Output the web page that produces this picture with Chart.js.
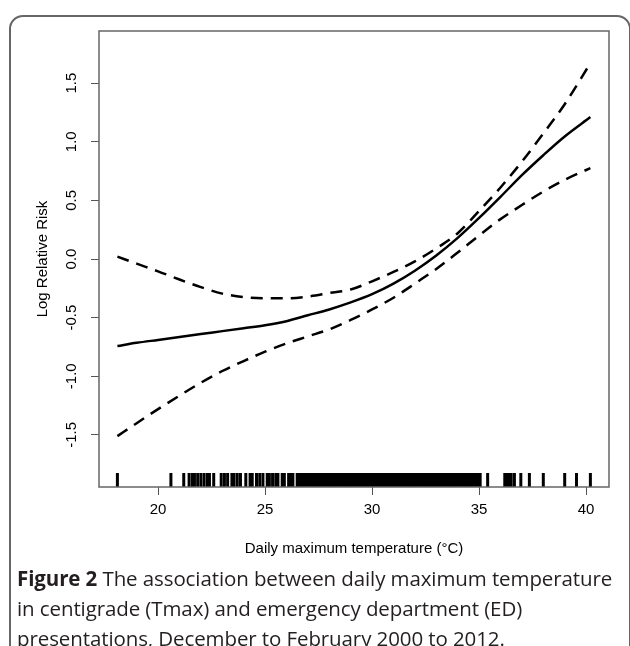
<!DOCTYPE html>
<html>
<head>
<meta charset="utf-8">
<script src="https://cdn.jsdelivr.net/npm/chart.js@4.4.0/dist/chart.umd.min.js"></script>
<style>
  html, body { margin: 0; padding: 0; background: #fff; }
  #page { position: relative; width: 630px; height: 646px; overflow: hidden; }
  #frame {
    position: absolute; left: 9px; top: 15px; width: 622px; height: 700px;
    border: 2px solid #666; border-radius: 14px; box-sizing: border-box;
  }
  #chart-div { position: absolute; left: 0; top: 0; width: 630px; height: 646px; }
  #caption {
    position: absolute; left: 17px; top: 563px; width: 612px;
    font-family: "Open Sans", sans-serif; font-size: 20.5px; line-height: 30px;
    color: #231f20; white-space: nowrap; letter-spacing: -0.1px;
  }
  #caption b { font-weight: 700; }
</style>
</head>
<body>
<div id="page">
  <div id="frame"></div>
  <div id="chart-div"><canvas id="canvas-id"></canvas></div>
  <div id="caption">
    <b>Figure 2</b> The association between daily maximum temperature<br>
    in centigrade (Tmax) and emergency department (ED)<br>
    presentations, December to February 2000 to 2012.
  </div>
</div>
<script>
// --- Chart data ---
var temps = [18.1, 19, 20, 21, 22, 23, 24, 25, 26, 27, 28, 29, 30, 31, 32, 33, 34, 35, 36, 37, 38, 39, 40.2]; //Tmax grid (°C)
var logRR = [-0.742, -0.715, -0.69, -0.665, -0.64, -0.615, -0.59, -0.565, -0.53, -0.48, -0.43, -0.37, -0.30, -0.21, -0.10, 0.03, 0.18, 0.35, 0.53, 0.715, 0.885, 1.045, 1.21]; //Fitted log RR
var upperCI = [0.02, -0.04, -0.105, -0.175, -0.24, -0.295, -0.325, -0.335, -0.335, -0.32, -0.29, -0.26, -0.19, -0.11, -0.02, 0.09, 0.22, 0.41, 0.61, 0.83, 1.07, 1.32, 1.67]; //Upper 95% band
var lowerCI = [-1.51, -1.40, -1.28, -1.165, -1.055, -0.955, -0.87, -0.79, -0.72, -0.66, -0.60, -0.52, -0.43, -0.33, -0.21, -0.085, 0.055, 0.20, 0.34, 0.46, 0.575, 0.675, 0.775]; //Lower 95% band

// Rug of observed daily Tmax values
var rugTemps = [
  18.1, 20.6, 21.2, 21.45, 21.6, 21.7, 21.85, 22.0, 22.15, 22.3, 22.4, 22.6,
  22.95, 23.1, 23.25, 23.45, 23.55, 23.7, 23.85, 24.1, 24.3, 24.4, 24.6, 24.75, 24.9,
  25.1, 25.2, 25.35, 25.5, 25.6, 25.8, 25.9, 26.1, 26.2, 26.3, 26.5,
  26.6, 26.7, 26.8, 26.9, 27.0, 27.1, 27.2, 27.3, 27.4, 27.5, 27.6, 27.7, 27.8, 27.9,
  28.0, 28.1, 28.2, 28.3, 28.4, 28.5, 28.6, 28.7, 28.8, 28.9,
  29.0, 29.1, 29.2, 29.3, 29.4, 29.5, 29.6, 29.7, 29.8, 29.9,
  30.0, 30.1, 30.2, 30.3, 30.4, 30.5, 30.6, 30.7, 30.8, 30.9,
  31.0, 31.1, 31.2, 31.3, 31.4, 31.5, 31.6, 31.7, 31.8, 31.9,
  32.0, 32.1, 32.2, 32.3, 32.4, 32.5, 32.6, 32.7, 32.8, 32.9,
  33.0, 33.1, 33.2, 33.3, 33.4, 33.5, 33.6, 33.7, 33.8, 33.9,
  34.0, 34.1, 34.2, 34.3, 34.4, 34.5, 34.6, 34.7, 34.8, 34.9, 35.0, 35.05,
  35.4, 36.2, 36.3, 36.4, 36.5, 36.65, 36.95, 37.35, 38.0, 39.0, 39.55, 40.2
];

var xTicks = [20, 25, 30, 35, 40]; //X axis tick labels
var yTicks = [-1.5, -1.0, -0.5, 0.0, 0.5, 1.0, 1.5]; //Y axis tick labels

var X_MIN = 17.24, X_MAX = 41.07; //R-style axis limits (4% padding)
var Y_MIN = -1.944, Y_MAX = 1.944;

function toPoints(xs, ys) { //Pair temperatures with values
  var pts = [];
  for (var i = 0; i < xs.length; i++) pts.push({ x: xs[i], y: ys[i] });
  return pts;
}

var AXIS_FONT = '"Liberation Sans", Arial, sans-serif';

// Box, rug, rotated y labels and axis titles (R base graphics look)
var rPlotPlugin = {
  id: 'rPlot',
  afterDatasetsDraw: function (chart) {
    var ctx = chart.ctx, area = chart.chartArea;
    var xs = chart.scales.x, ys = chart.scales.y;
    ctx.save();

    // Rug along bottom of plot region
    ctx.strokeStyle = '#000';
    ctx.lineWidth = 3;
    rugTemps.forEach(function (t) {
      var px = xs.getPixelForValue(t);
      ctx.beginPath();
      ctx.moveTo(px, area.bottom);
      ctx.lineTo(px, area.bottom - 14);
      ctx.stroke();
    });

    // Plot box
    ctx.strokeStyle = '#666';
    ctx.lineWidth = 1.5;
    ctx.strokeRect(area.left, area.top, area.right - area.left, area.bottom - area.top);

    // Y tick labels, parallel to the axis
    ctx.fillStyle = '#000';
    ctx.font = '15px ' + AXIS_FONT;
    ctx.textAlign = 'center';
    ctx.textBaseline = 'middle';
    yTicks.forEach(function (v) {
      ctx.save();
      ctx.translate(area.left - 27, ys.getPixelForValue(v));
      ctx.rotate(-Math.PI / 2);
      ctx.fillText(v.toFixed(1), 0, 0);
      ctx.restore();
    });

    // Axis titles
    ctx.save();
    ctx.translate(area.left - 56, (area.top + area.bottom) / 2);
    ctx.rotate(-Math.PI / 2);
    ctx.fillText('Log Relative Risk', 0, 0);
    ctx.restore();
    ctx.fillText('Daily maximum temperature (°C)', (area.left + area.right) / 2, area.bottom + 62);

    ctx.restore();
  }
};

function drawChart() {
  var data = {
    datasets: [
      {
        label: 'Log RR',
        data: toPoints(temps, logRR),
        showLine: true,
        borderColor: '#000',
        borderWidth: 2.5,
        pointRadius: 0,
        cubicInterpolationMode: 'monotone'
      },
      {
        label: 'Upper CI',
        data: toPoints(temps, upperCI),
        showLine: true,
        borderColor: '#000',
        borderWidth: 2.5,
        borderDash: [12, 8],
        pointRadius: 0,
        cubicInterpolationMode: 'monotone'
      },
      {
        label: 'Lower CI',
        data: toPoints(temps, lowerCI),
        showLine: true,
        borderColor: '#000',
        borderWidth: 2.5,
        borderDash: [12, 8],
        pointRadius: 0,
        cubicInterpolationMode: 'monotone'
      }
    ]
  };

  var chartConfiguration = {
    type: 'scatter',
    data: data,
    options: {
      responsive: true,
      maintainAspectRatio: false,
      animation: false,
      layout: { padding: { top: 31, right: 21, left: 0, bottom: 0 } },
      scales: {
        x: {
          type: 'linear',
          min: X_MIN,
          max: X_MAX,
          afterBuildTicks: function (s) { s.ticks = xTicks.map(function (v) { return { value: v }; }); },
          afterFit: function (s) { s.height = 159; },
          grid: { drawOnChartArea: false, drawTicks: true, tickLength: 8, color: '#555', lineWidth: 1 },
          border: { display: false },
          ticks: {
            color: '#000',
            font: { family: AXIS_FONT, size: 15 },
            padding: 6,
            maxRotation: 0,
            callback: function (v) { return v; }
          }
        },
        y: {
          type: 'linear',
          min: Y_MIN,
          max: Y_MAX,
          afterBuildTicks: function (s) { s.ticks = yTicks.map(function (v) { return { value: v }; }); },
          afterFit: function (s) { s.width = 99; },
          grid: { drawOnChartArea: false, drawTicks: true, tickLength: 8, color: '#555', lineWidth: 1 },
          border: { display: false },
          ticks: { display: false }
        }
      },
      plugins: {
        legend: { display: false },
        tooltip: { enabled: false }
      }
    },
    plugins: [rPlotPlugin]
  };

  var canvas_element = document.getElementById('canvas-id').getContext('2d');
  new Chart(canvas_element, chartConfiguration);
}

drawChart();
</script>
</body>
</html>
